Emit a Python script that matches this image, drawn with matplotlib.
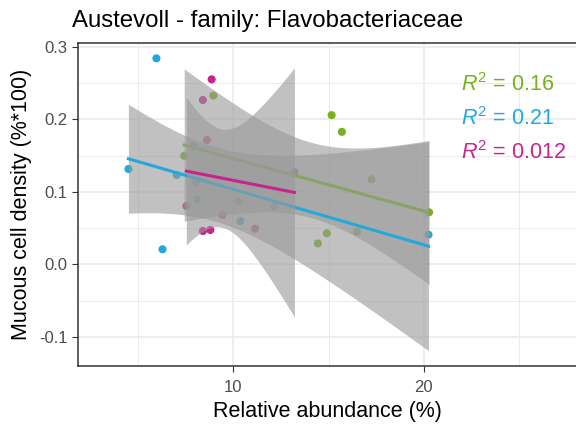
import numpy as np
import matplotlib
matplotlib.use("Agg")
import matplotlib.pyplot as plt

plt.rcParams['font.family'] = ['Liberation Sans', 'DejaVu Sans']
plt.rcParams['mathtext.fontset'] = 'custom'
plt.rcParams['mathtext.rm'] = 'Liberation Sans'
plt.rcParams['mathtext.it'] = 'Liberation Sans:italic'

# relative abundance (%) and mucous cell density per group
green_x = [7.42, 8.95, 10.28, 14.44, 14.91, 15.16, 15.70, 16.49, 17.26, 20.28]
green_y = [0.150, 0.233, 0.087, 0.029, 0.043, 0.206, 0.183, 0.045, 0.1175, 0.072]
blue_x = [4.49, 5.96, 6.28, 7.03, 7.91, 8.05, 8.09, 10.37, 12.16, 20.25]
blue_y = [0.1317, 0.2844, 0.021, 0.1234, 0.163, 0.1143, 0.0903, 0.060, 0.080, 0.0411]
pink_x = [7.53, 8.40, 8.40, 8.61, 8.79, 8.86, 9.42, 11.14, 13.21]
pink_y = [0.0807, 0.2269, 0.0462, 0.1717, 0.0476, 0.2554, 0.0683, 0.0494, 0.1272]

r2_labels = ['0.16', '0.21', '0.012']
colors = ['#78B01E', '#21A9DB', '#C6258E']

# two sided 95% t quantiles
t975 = {7: 2.3646, 8: 2.3060}

groups = [(green_x, green_y), (blue_x, blue_y), (pink_x, pink_y)]

fig = plt.figure(figsize=(5.76, 4.26), dpi=100)
ax = fig.add_axes([78/576, 60/426, 500/576, 323/426])

for (gx, gy), c in zip(groups, colors):
    ax.scatter(gx, gy, s=34, color=c, edgecolors='none', zorder=2)

for (gx, gy), c in zip(groups, colors):
    x = np.array(gx)
    y = np.array(gy)
    n = len(x)
    slope, icpt = np.polyfit(x, y, 1)
    res = y - (icpt + slope*x)
    s = np.sqrt(np.sum(res**2)/(n-2))
    xx = np.linspace(x.min(), x.max(), 80)
    yy = icpt + slope*xx
    se = s*np.sqrt(1/n + (xx - x.mean())**2/np.sum((x - x.mean())**2))
    t = t975[n-2]
    ax.fill_between(xx, yy - t*se, yy + t*se, color='#999999', alpha=0.6,
                    linewidth=0, zorder=3)
    ax.plot(xx, yy, color=c, lw=2.2, zorder=3)

for i, (lab, c) in enumerate(zip(r2_labels, colors)):
    ax.text(21.95, 0.2476 - 0.0465*i, r'$R^2$ = ' + lab, color=c,
            fontsize=15.5, va='center', ha='left', zorder=5)

ax.set_xlim(1.842, 28.1)
ax.set_ylim(-0.140, 0.3055)
ax.set_xticks([10, 20])
ax.set_xticks([5, 15, 25], minor=True)
ax.set_yticks([-0.1, 0.0, 0.1, 0.2, 0.3])
ax.set_yticklabels(['-0.1', '0.0', '0.1', '0.2', '0.3'])
ax.set_yticks([-0.05, 0.05, 0.15, 0.25], minor=True)
ax.grid(True, which='major', color='#EBEBEB', lw=1.2, zorder=0)
ax.grid(True, which='minor', color='#EBEBEB', lw=0.7, zorder=0)
ax.set_axisbelow(True)
ax.tick_params(which='major', length=4.3, width=0.8, color='#333333',
               labelsize=12, labelcolor='#4D4D4D')
ax.tick_params(axis='x', which='major', pad=6)
ax.tick_params(axis='y', which='major', pad=3)
ax.tick_params(which='minor', length=0)
for sp in ax.spines.values():
    sp.set_color('#333333')
    sp.set_linewidth(1.1)
ax.spines['right'].set_visible(False)

fig.text(72/576, 1 - 27/426, 'Austevoll - family: Flavobacteriaceae',
         fontsize=17.3, ha='left', va='baseline')
fig.text(327/576, 1 - 417/426, 'Relative abundance (%)', fontsize=15.5,
         ha='center', va='baseline')
fig.text(22/576, 1 - 204/426, 'Mucous cell density (%*100)', fontsize=15.5,
         ha='center', va='center', rotation=90)

fig.savefig('out.png', dpi=100)
